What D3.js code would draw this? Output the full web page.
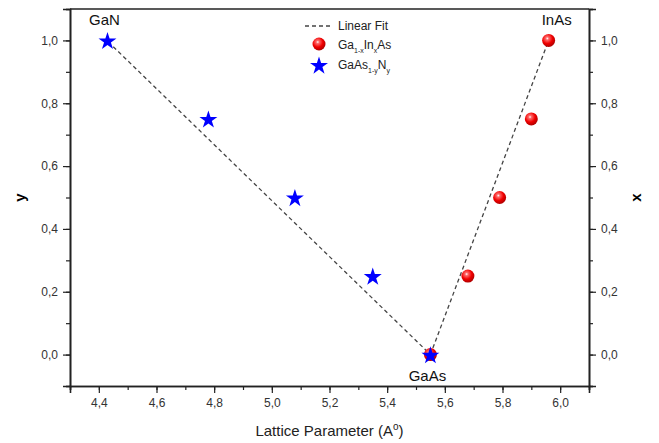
<!DOCTYPE html>
<html>
<head>
<meta charset="utf-8">
<script src="https://cdn.jsdelivr.net/npm/d3@7"></script>
<style>
  body { margin: 0; background: #fff; }
  text { font-family: Arial, "Liberation Sans", sans-serif; }
</style>
</head>
<body>
<div id="chart"></div>
<script>
// GaAs(1-y)N(y) points: lattice parameter vs y
const nitrideA = [4.43, 4.78, 5.08, 5.35, 5.55];
const nitrideY = [1.0, 0.75, 0.5, 0.25, 0.0];
// Ga(1-x)In(x)As points: lattice parameter vs x
const indiumA = [5.55, 5.68, 5.79, 5.90, 5.96];
const indiumX = [0.0, 0.25, 0.5, 0.75, 1.0];
// linear fit end points
const fitLeft = [[4.45, 0.98], [5.55, 0.0]];
const fitRight = [[5.55, 0.0], [5.96, 1.0]];
const xTicks = [4.4, 4.6, 4.8, 5.0, 5.2, 5.4, 5.6, 5.8, 6.0];
const yTicks = [0.0, 0.2, 0.4, 0.6, 0.8, 1.0];

const width = 659, height = 443;
const margin = { top: 9, right: 70, bottom: 57, left: 70 };

const svg = d3.select("#chart").append("svg")
  .attr("width", width)
  .attr("height", height);

const x = d3.scaleLinear().domain([4.3, 6.1]).range([margin.left, width - margin.right]);
const y = d3.scaleLinear().domain([-0.1, 1.1]).range([height - margin.bottom, margin.top]);

const fmt = d => d3.format(".1f")(d).replace(".", ",");
const minorX = d3.range(43, 62).map(d => d / 10);
const minorY = d3.range(-1, 12).map(d => d / 10);

const defs = svg.append("defs");
const grad = defs.append("radialGradient")
  .attr("id", "ball").attr("cx", "40%").attr("cy", "35%").attr("r", "65%");
grad.append("stop").attr("offset", "0%").attr("stop-color", "#fff");
grad.append("stop").attr("offset", "18%").attr("stop-color", "#ff6a6a");
grad.append("stop").attr("offset", "60%").attr("stop-color", "#f00000");
grad.append("stop").attr("offset", "100%").attr("stop-color", "#b00000");

// frame
svg.append("line")
  .attr("x1", x(4.3)).attr("x2", x(6.1))
  .attr("y1", y(1.1)).attr("y2", y(1.1))
  .attr("stroke", "#222").attr("stroke-width", 1.6);

const axisStyle = g => {
  g.select(".domain").attr("stroke", "#222").attr("stroke-width", 1.6);
  g.selectAll(".tick line").attr("stroke", "#222").attr("stroke-width", 1.2);
  g.selectAll(".tick text").attr("fill", "#333").style("font-size", "12px")
    .style("font-family", "Arial, 'Liberation Sans', sans-serif");
};

// minor ticks
svg.append("g").attr("transform", `translate(0,${y(-0.1)})`)
  .call(d3.axisBottom(x).tickValues(minorX).tickSize(4).tickFormat(""))
  .call(axisStyle);
svg.append("g").attr("transform", `translate(${x(4.3)},0)`)
  .call(d3.axisLeft(y).tickValues(minorY).tickSize(4).tickFormat(""))
  .call(axisStyle);
svg.append("g").attr("transform", `translate(${x(6.1)},0)`)
  .call(d3.axisRight(y).tickValues(minorY).tickSize(4).tickFormat(""))
  .call(axisStyle);

// major ticks
svg.append("g").attr("transform", `translate(0,${y(-0.1)})`)
  .call(d3.axisBottom(x).tickValues(xTicks).tickSize(7).tickPadding(5).tickFormat(fmt))
  .call(axisStyle);
svg.append("g").attr("transform", `translate(${x(4.3)},0)`)
  .call(d3.axisLeft(y).tickValues(yTicks).tickSize(7).tickPadding(5).tickFormat(fmt))
  .call(axisStyle);
svg.append("g").attr("transform", `translate(${x(6.1)},0)`)
  .call(d3.axisRight(y).tickValues(yTicks).tickSize(7).tickPadding(5).tickFormat(fmt))
  .call(axisStyle);

// axis titles
svg.append("text")
  .attr("x", (x(4.3) + x(6.1)) / 2).attr("y", 436)
  .attr("text-anchor", "middle").style("font-size", "15px").attr("fill", "#222")
  .html('Lattice Parameter (A<tspan dy="-6" font-size="10px">o</tspan><tspan dy="6">)</tspan>');
svg.append("text")
  .attr("transform", `translate(25,${y(0.5)}) rotate(-90)`)
  .attr("text-anchor", "middle").style("font-size", "15px").style("font-weight", "bold")
  .text("y");
svg.append("text")
  .attr("transform", `translate(641,${y(0.5)}) rotate(-90)`)
  .attr("text-anchor", "middle").style("font-size", "15px").style("font-weight", "bold")
  .text("x");

// linear fits
const line = d3.line().x(d => x(d[0])).y(d => y(d[1]));
[fitLeft, fitRight].forEach(f => {
  svg.append("path").attr("d", line(f))
    .attr("fill", "none").attr("stroke", "#444")
    .attr("stroke-width", 1.3).attr("stroke-dasharray", "4,3");
});

// red balls
svg.selectAll(".ball").data(indiumA.map((a, i) => [a, indiumX[i]]))
  .enter().append("circle")
  .attr("cx", d => x(d[0])).attr("cy", d => y(d[1]))
  .attr("r", 6.5).attr("fill", "url(#ball)");

// blue stars
const star = d3.symbol().type(d3.symbolStar).size(100);
svg.selectAll(".star").data(nitrideA.map((a, i) => [a, nitrideY[i]]))
  .enter().append("path")
  .attr("d", star)
  .attr("transform", d => `translate(${x(d[0])},${y(d[1]) + 1})`)
  .attr("fill", "#0000ff");

// point labels
const lab = (t, px, py) => svg.append("text").attr("x", px).attr("y", py)
  .attr("text-anchor", "middle").style("font-size", "15px").attr("fill", "#111").text(t);
lab("GaN", x(nitrideA[0]) - 3, 25);
lab("InAs", x(indiumA[4]) + 8, 25);
lab("GaAs", x(nitrideA[4]) - 3, 381);

// legend
const lg = svg.append("g").attr("transform", "translate(305,0)");
lg.append("line").attr("x1", 0).attr("x2", 28).attr("y1", 26).attr("y2", 26)
  .attr("stroke", "#444").attr("stroke-width", 1.3).attr("stroke-dasharray", "4,3");
lg.append("text").attr("x", 33).attr("y", 30).style("font-size", "12px").attr("fill", "#222")
  .text("Linear Fit");
lg.append("circle").attr("cx", 14).attr("cy", 44).attr("r", 6.5).attr("fill", "url(#ball)");
lg.append("text").attr("x", 33).attr("y", 49).style("font-size", "12px").attr("fill", "#222")
  .html('Ga<tspan dy="4" font-size="7px">1-x</tspan><tspan dy="-4">In</tspan><tspan dy="4" font-size="7px">x</tspan><tspan dy="-4">As</tspan>');
lg.append("path").attr("d", star).attr("transform", "translate(14,66)").attr("fill", "#0000ff");
lg.append("text").attr("x", 33).attr("y", 69).style("font-size", "12px").attr("fill", "#222")
  .html('GaAs<tspan dy="4" font-size="7px">1-y</tspan><tspan dy="-4">N</tspan><tspan dy="4" font-size="7px">y</tspan>');
</script>
</body>
</html>
